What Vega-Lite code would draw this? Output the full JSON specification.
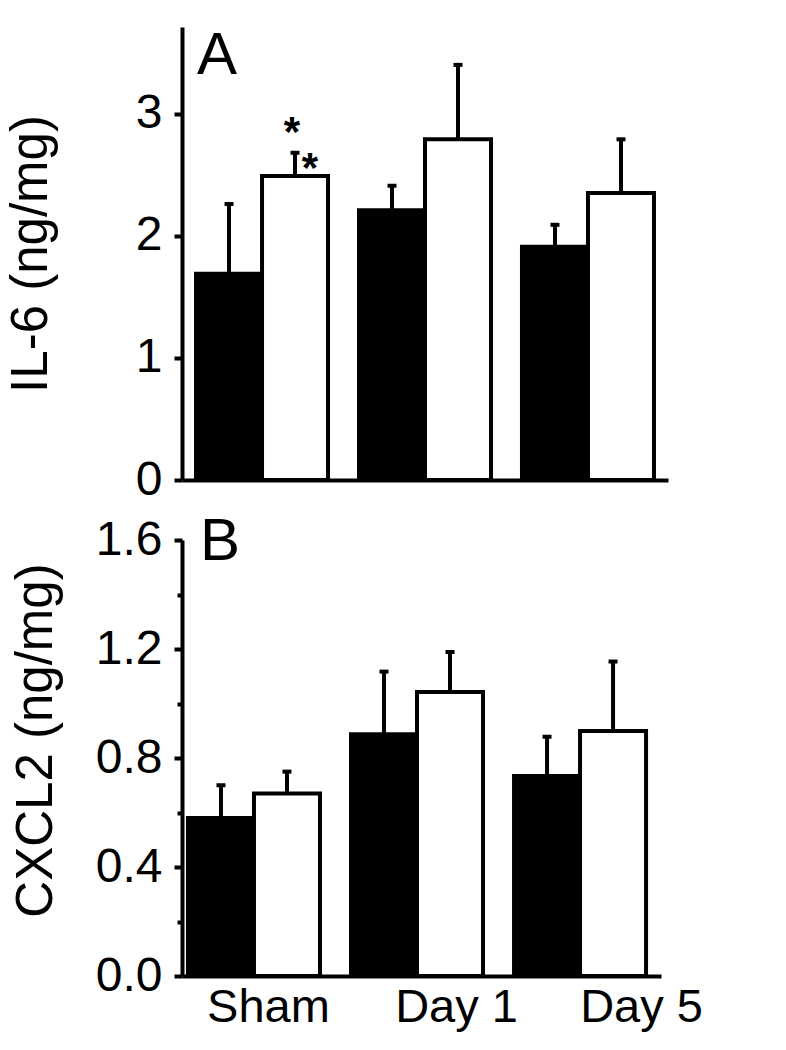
{
  "$schema": "https://vega.github.io/schema/vega-lite/v6.json",
  "background": "white",
  "padding": {"left": 5, "top": 26, "right": 5, "bottom": 5},
  "config": {
    "font": "Liberation Sans",
    "view": {"stroke": null},
    "axis": {
      "domainColor": "black", "domainWidth": 4, "tickColor": "black", "tickWidth": 4,
      "labelColor": "black", "titleColor": "black", "labelFont": "Liberation Sans",
      "titleFont": "Liberation Sans", "labelFontSize": 48, "titleFontSize": 51,
      "titleFontWeight": "normal", "grid": false
    },
    "title": {"font": "Liberation Sans", "fontSize": 60, "fontWeight": "normal", "color": "black", "anchor": "start", "frame": "group", "baseline": "alphabetic"}
  },
  "datasets": {
    "il6": [
      {"day": "Sham", "group": "Control", "mean": 1.69, "upper": 2.26},
      {"day": "Sham", "group": "Treatment", "mean": 2.49, "upper": 2.68},
      {"day": "Day 1", "group": "Control", "mean": 2.21, "upper": 2.41},
      {"day": "Day 1", "group": "Treatment", "mean": 2.79, "upper": 3.40},
      {"day": "Day 5", "group": "Control", "mean": 1.91, "upper": 2.09},
      {"day": "Day 5", "group": "Treatment", "mean": 2.35, "upper": 2.79}
    ],
    "cxcl2": [
      {"day": "Sham", "group": "Control", "mean": 0.58, "upper": 0.70},
      {"day": "Sham", "group": "Treatment", "mean": 0.67, "upper": 0.75},
      {"day": "Day 1", "group": "Control", "mean": 0.887, "upper": 1.117},
      {"day": "Day 1", "group": "Treatment", "mean": 1.042, "upper": 1.189},
      {"day": "Day 5", "group": "Control", "mean": 0.734, "upper": 0.878},
      {"day": "Day 5", "group": "Treatment", "mean": 0.899, "upper": 1.154}
    ],
    "stars1": [{"day": "Sham", "group": "Treatment", "y": 2.93, "text": "*"}],
    "stars2": [{"day": "Sham", "group": "Treatment", "y": 2.64, "text": "*"}]
  },
  "spacing": 8,
  "vconcat": [
    {
      "width": 486,
      "height": 453,
      "title": {"text": "A", "offset": -60, "dx": 15},
      "encoding": {
        "x": {"field": "day", "type": "nominal", "sort": ["Sham", "Day 1", "Day 5"],
              "scale": {"paddingInner": 0.19, "paddingOuter": 0.086, "align": 0.5},
              "axis": {"labels": false, "ticks": false, "title": null}},
        "xOffset": {"field": "group", "type": "nominal", "scale": {"domain": ["Control", "Treatment"], "paddingInner": 0, "paddingOuter": 0}}
      },
      "layer": [
        {
          "data": {"name": "il6"},
          "mark": {"type": "bar", "stroke": "black", "strokeWidth": 4},
          "encoding": {
            "y": {"field": "mean", "type": "quantitative", "scale": {"domain": [0, 3.71], "nice": false},
                  "axis": {"title": "IL-6 (ng/mg)", "values": [0, 0.5, 1, 1.5, 2, 2.5, 3, 3.5], "format": "d",
                           "labelExpr": "datum.value % 1 === 0 ? datum.label : ''",
                           "tickSize": {"condition": {"test": "datum.value % 1 === 0", "value": 8}, "value": 5},
                           "labelPadding": 12, "titlePadding": 78}},
            "fill": {"field": "group", "type": "nominal", "scale": {"domain": ["Control", "Treatment"], "range": ["black", "white"]}, "legend": null}
          }
        },
        {
          "data": {"name": "il6"},
          "mark": {"type": "rule", "strokeWidth": 4, "color": "black"},
          "encoding": {"y": {"field": "mean", "type": "quantitative"}, "y2": {"field": "upper"}}
        },
        {
          "data": {"name": "il6"},
          "mark": {"type": "tick", "orient": "horizontal", "thickness": 4, "size": 9, "color": "black", "opacity": 1},
          "encoding": {"y": {"field": "upper", "type": "quantitative"}}
        },
        {
          "data": {"name": "stars1"},
          "mark": {"type": "text", "fontSize": 42, "fontWeight": "bold", "baseline": "alphabetic", "dx": -3, "dy": 24, "color": "black"},
          "encoding": {"y": {"field": "y", "type": "quantitative"}, "text": {"field": "text"}}
        },
        {
          "data": {"name": "stars2"},
          "mark": {"type": "text", "fontSize": 42, "fontWeight": "bold", "baseline": "alphabetic", "dx": 15, "dy": 24, "color": "black"},
          "encoding": {"y": {"field": "y", "type": "quantitative"}, "text": {"field": "text"}}
        }
      ]
    },
    {
      "width": 479,
      "height": 436,
      "title": {"text": "B", "offset": -57, "dx": 18},
      "encoding": {
        "x": {"field": "day", "type": "nominal", "sort": ["Sham", "Day 1", "Day 5"],
              "scale": {"paddingInner": 0.184, "paddingOuter": 0.061, "align": 0.3},
              "axis": {"ticks": false, "title": null, "labelAngle": 0, "labelFontSize": 47, "labelPadding": 8,
                       "labelOffset": {"condition": [{"test": "datum.value === 'Sham'", "value": 14}, {"test": "datum.value === 'Day 1'", "value": 39}], "value": 61}}},
        "xOffset": {"field": "group", "type": "nominal", "scale": {"domain": ["Control", "Treatment"], "paddingInner": 0, "paddingOuter": 0}}
      },
      "layer": [
        {
          "data": {"name": "cxcl2"},
          "mark": {"type": "bar", "stroke": "black", "strokeWidth": 4},
          "encoding": {
            "y": {"field": "mean", "type": "quantitative", "scale": {"domain": [0, 1.6], "nice": false},
                  "axis": {"title": "CXCL2 (ng/mg)", "values": [0, 0.2, 0.4, 0.6, 0.8, 1.0, 1.2, 1.4, 1.6], "format": ".1f",
                           "labelExpr": "round(datum.value * 10) % 4 === 0 ? datum.label : ''",
                           "tickSize": {"condition": {"test": "round(datum.value * 10) % 4 === 0", "value": 8}, "value": 5},
                           "labelPadding": 12, "titlePadding": 33, "titleY": 200}},
            "fill": {"field": "group", "type": "nominal", "scale": {"domain": ["Control", "Treatment"], "range": ["black", "white"]}, "legend": null}
          }
        },
        {
          "data": {"name": "cxcl2"},
          "mark": {"type": "rule", "strokeWidth": 4, "color": "black"},
          "encoding": {"y": {"field": "mean", "type": "quantitative"}, "y2": {"field": "upper"}}
        },
        {
          "data": {"name": "cxcl2"},
          "mark": {"type": "tick", "orient": "horizontal", "thickness": 4, "size": 9, "color": "black", "opacity": 1},
          "encoding": {"y": {"field": "upper", "type": "quantitative"}}
        }
      ]
    }
  ]
}
